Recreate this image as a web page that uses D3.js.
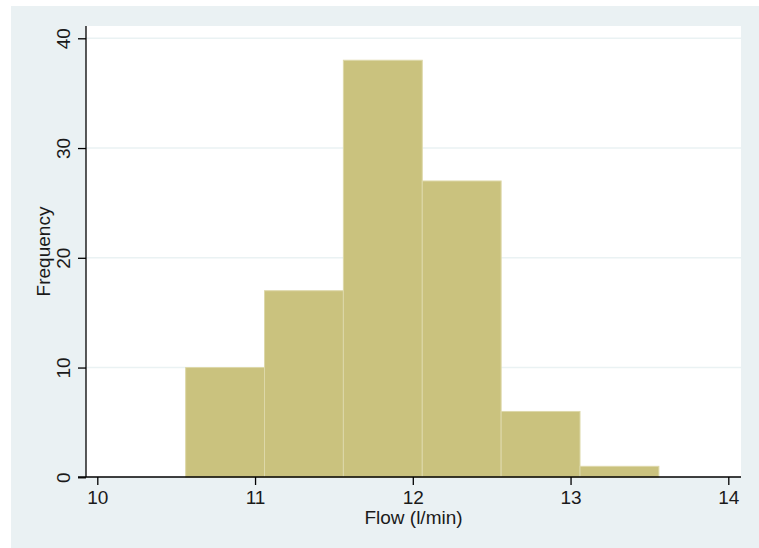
<!DOCTYPE html>
<html>
<head>
<meta charset="utf-8">
<script src="https://cdn.jsdelivr.net/npm/d3@7"></script>
<style>
  body { margin: 0; background: #fff; }
  text { font-family: "Liberation Sans", Arial, sans-serif; fill: #1a1a1a; }
</style>
</head>
<body>
<svg width="759" height="548"></svg>
<script>
// histogram bins (lower edges) and counts
var binStart = [10.56, 11.06, 11.56, 12.06, 12.56, 13.06];
var binWidth = 0.5;
var counts = [10, 17, 38, 27, 6, 1];
var xTicks = [10, 11, 12, 13, 14];
var yTicks = [0, 10, 20, 30, 40];

var svg = d3.select("svg");

// outer background
svg.append("rect")
    .attr("x", 11).attr("y", 6)
    .attr("width", 748).attr("height", 542)
    .attr("fill", "#eaf1f3");

var plot = { left: 86, right: 741, top: 26, bottom: 477 };

svg.append("rect")
    .attr("x", plot.left).attr("y", plot.top)
    .attr("width", plot.right - plot.left).attr("height", plot.bottom - plot.top)
    .attr("fill", "#fff");

var x = d3.scaleLinear().domain([10, 14]).range([97.3, 728.3]);
var y = d3.scaleLinear().domain([0, 40]).range([477.3, 38.3]);

// gridlines
svg.selectAll("line.grid").data(yTicks.filter(d => d > 0))
    .enter().append("line")
    .attr("class", "grid")
    .attr("x1", plot.left).attr("x2", plot.right)
    .attr("y1", d => y(d)).attr("y2", d => y(d))
    .attr("stroke", "#eaf2f3")
    .attr("stroke-width", 1.5);

// bars
svg.selectAll("rect.bar").data(counts)
    .enter().append("rect")
    .attr("class", "bar")
    .attr("x", (d, i) => x(binStart[i]))
    .attr("width", (d, i) => x(binStart[i] + binWidth) - x(binStart[i]))
    .attr("y", d => y(d))
    .attr("height", d => y(0) - y(d))
    .attr("fill", "#cac27e")
    .attr("stroke", "#ddd8a9")
    .attr("stroke-width", 1);

// y axis
var yAxis = svg.append("g")
    .attr("transform", "translate(" + plot.left + ",0)")
    .call(d3.axisLeft(y).tickValues(yTicks).tickFormat(d3.format("d")).tickSize(8).tickPadding(0).tickSizeOuter(0));
yAxis.select(".domain").attr("d", "M0," + plot.top + "V" + plot.bottom).attr("stroke", "#000").attr("stroke-width", 1.3);
yAxis.selectAll(".tick line").attr("stroke", "#000").attr("stroke-width", 1.3);
yAxis.selectAll(".tick text")
    .attr("x", 0).attr("y", 0).attr("dy", null)
    .attr("transform", "translate(-16,0) rotate(-90)")
    .attr("text-anchor", "middle")
    .style("font-size", "19px")
    .style("fill", "#1a1a1a");

// x axis
var xAxis = svg.append("g")
    .attr("transform", "translate(0," + plot.bottom + ")")
    .call(d3.axisBottom(x).tickValues(xTicks).tickFormat(d3.format("d")).tickSize(8).tickPadding(6).tickSizeOuter(0));
xAxis.select(".domain").attr("d", "M78,0H" + plot.right).attr("stroke", "#000").attr("stroke-width", 1.3);
xAxis.selectAll(".tick line").attr("stroke", "#000").attr("stroke-width", 1.3);
xAxis.selectAll(".tick text")
    .style("font-size", "19px")
    .style("fill", "#1a1a1a");

// axis titles
svg.append("text")
    .attr("x", (plot.left + plot.right) / 2).attr("y", 524)
    .attr("text-anchor", "middle")
    .style("font-size", "19px")
    .text("Flow (l/min)");

svg.append("text")
    .attr("transform", "translate(50," + ((plot.top + plot.bottom) / 2) + ") rotate(-90)")
    .attr("text-anchor", "middle")
    .style("font-size", "19px")
    .text("Frequency");
</script>
</body>
</html>
